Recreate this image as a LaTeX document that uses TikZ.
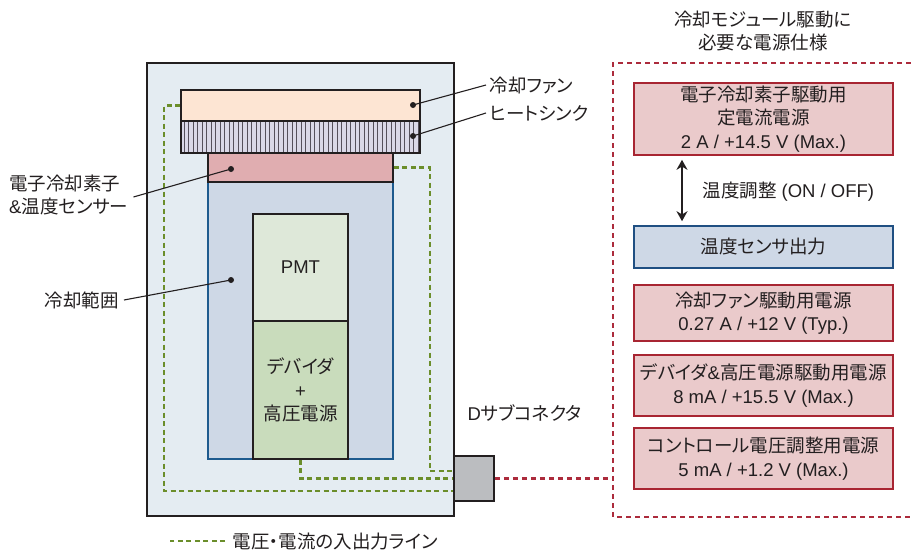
\documentclass[tikz,border=0pt]{standalone}
\usepackage{fontspec}
\setmainfont[RawFeature=+palt]{Noto Sans CJK JP}
\newfontfamily\latfont{Liberation Sans}
\newcommand{\lat}[1]{{\latfont #1}}
\usetikzlibrary{arrows.meta}
\definecolor{edge}{HTML}{231F20}
\definecolor{housing}{HTML}{E4ECF2}
\definecolor{coolfill}{HTML}{CED8E6}
\definecolor{coolblue}{HTML}{1D5A8E}
\definecolor{peltfill}{HTML}{E0ADB0}
\definecolor{sinkfill}{HTML}{DAD8E8}
\definecolor{sinkline}{HTML}{55505C}
\definecolor{fanfill}{HTML}{FDE5D3}
\definecolor{pmtfill}{HTML}{DEE8D9}
\definecolor{divfill}{HTML}{C9DCBC}
\definecolor{connfill}{HTML}{BBBDC0}
\definecolor{iogreen}{HTML}{6B8E2B}
\definecolor{outred}{HTML}{AC2B3C}
\definecolor{specred}{HTML}{A82532}
\definecolor{specfill}{HTML}{EACACB}
\definecolor{sensorblue}{HTML}{1F4F82}
\begin{document}
\begin{tikzpicture}[>={Stealth[length=10pt,width=11pt]},x=1pt,y=-1pt,
	font=\fontsize{18.5}{23.5}\selectfont,text=edge,
	part/.style={draw=edge,line width=1.6pt,inner sep=0pt},
	spec/.style={draw=specred,fill=specfill,line width=1.6pt,minimum width=259pt,inner sep=0pt,align=center},
	io line/.style={draw=iogreen,line width=2.2pt,dash pattern=on 5pt off 3.5pt},
	out line/.style={draw=outred,line width=2.2pt,dash pattern=on 5pt off 4pt},
	lead/.style={draw=edge,line width=1.1pt},
	dot/.style={circle,fill=edge,inner sep=0pt,minimum size=6pt}]
	\useasboundingbox (0,0) rectangle (911,550);
	% モジュール本体
	\node[part,fill=housing,minimum width=307pt,minimum height=453pt] (housing) at (300.5,289.5) {};
	\node[draw=coolblue,fill=coolfill,line width=1.6pt,inner sep=0pt,minimum width=185pt,minimum height=277pt] (cool) at (300.5,320.5) {};
	\node[part,fill=peltfill,minimum width=185pt,minimum height=29pt] (pelt) at (300.5,167.5) {};
	\node[fill=sinkfill,inner sep=0pt,minimum width=239pt,minimum height=32pt] (sink) at (300.5,137) {};
	\foreach \x in {184,188.5,...,418} \draw[sinkline,line width=1pt] (\x,121) -- (\x,153);
	\draw[edge,line width=1.6pt] (sink.north west) rectangle (sink.south east);
	\node[part,fill=fanfill,minimum width=239pt,minimum height=31pt] (fan) at (300.5,105.5) {};
	\node[part,fill=pmtfill,minimum width=95pt,minimum height=107pt] (pmt) at (300.5,267.5) {\lat{PMT}};
	\node[part,fill=divfill,minimum width=95pt,minimum height=138pt,align=center] (div) at (300.5,390) {デバイダ\\\lat{+}\\高圧電源};
	\node[part,fill=connfill,minimum width=40pt,minimum height=45pt] (conn) at (474,478.5) {};
	% 入出力ライン
	\draw[io line] (fan.west) -- ++(-16,0) |- ([yshift=-12.5pt]conn.west);
	\draw[io line] (pelt.east) -- ++(36,0) |- ([yshift=7.5pt]conn.west);
	\draw[io line] (div.south) |- (conn.west);
	% 引き出し線
	\node[anchor=west] (fanlbl) at (486,85) {冷却ファン};
	\node[anchor=west] (sinklbl) at (486,113) {ヒートシンク};
	\node[anchor=west,align=left,inner sep=1pt] (peltlbl) at (8,195) {電子冷却素子\\\lat{\&}温度センサー};
	\node[anchor=east,inner sep=1pt] (coollbl) at (120,300) {冷却範囲};
	\node[anchor=west] (connlbl) at (464,413) {\lat{D}サブコネクタ};
	\node[dot] (fandot) at (413,105) {};
	\node[dot] (sinkdot) at (413,136) {};
	\node[dot] (peltdot) at (231,169) {};
	\node[dot] (cooldot) at (231,280) {};
	\draw[lead] (fanlbl.west) -- (fandot.center);
	\draw[lead] (sinklbl.west) -- (sinkdot.center);
	\draw[lead] ([xshift=4pt,yshift=-2pt]peltlbl.east) -- (peltdot.center);
	\draw[lead] ([xshift=4pt]coollbl.east) -- (cooldot.center);
	% 電源仕様
	\node[align=center] (title) at (763,31) {冷却モジュール駆動に\\必要な電源仕様};
	\node[spec,minimum height=72pt] (tec) at (763.5,119) {電子冷却素子駆動用\\定電流電源\\\lat{2 A / +14.5 V (Max.)}};
	\node[spec,draw=sensorblue,fill=coolfill,minimum height=42pt] (sensor) at (763.5,247) {温度センサ出力};
	\node[spec,minimum height=56pt] (fanpw) at (763.5,313) {冷却ファン駆動用電源\\\lat{0.27 A / +12 V (Typ.)}};
	\node[spec,minimum height=61pt] (hvpw) at (763.5,385.5) {デバイダ\lat{\&}高圧電源駆動用電源\\\lat{8 mA / +15.5 V (Max.)}};
	\node[spec,minimum height=61pt] (ctlpw) at (763.5,458.5) {コントロール電圧調整用電源\\\lat{5 mA / +1.2 V (Max.)}};
	\draw[<->,edge,line width=1.8pt,shorten <=4pt,shorten >=4pt] ([xshift=-81.5pt]tec.south) -- ([xshift=-81.5pt]sensor.north);
	\node[anchor=west] (adjlbl) at (699,192) {温度調整\lat{ (ON / OFF)}};
	\draw[out line] (911,63) -| (613,517) -- (911,517);
	\draw[out line] (conn.east) -- (613,478.5);
	% 凡例
	\node[anchor=west] (legend) at (229,541) {電圧・電流の入出力ライン};
	\draw[io line] ([xshift=-4pt]legend.west) -- ++(-55,0);
\end{tikzpicture}
\end{document}
